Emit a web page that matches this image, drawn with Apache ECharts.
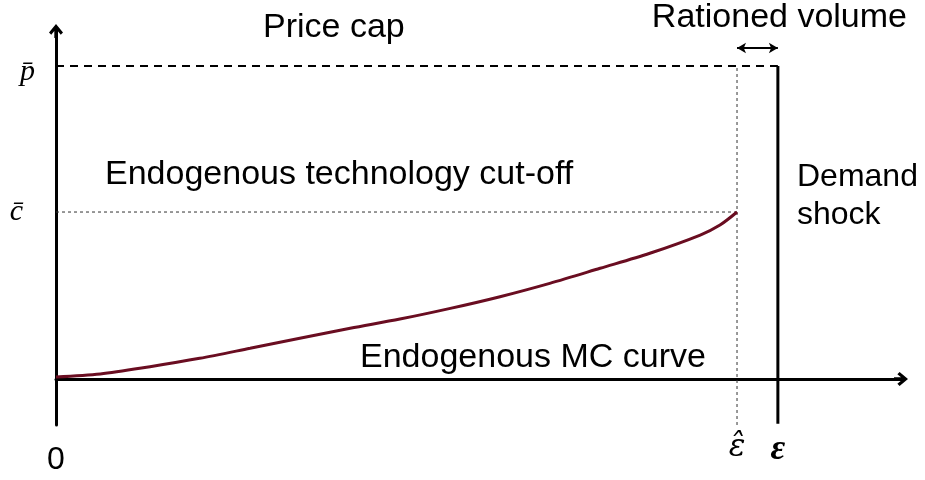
<!DOCTYPE html>
<html>
<head>
<meta charset="utf-8">
<script src="https://cdn.jsdelivr.net/npm/echarts@6/dist/echarts.min.js"></script>
<style>html,body{margin:0;padding:0;background:#fff}#chart{width:925px;height:480px}</style>
</head>
<body>
<div id="chart"></div>
<script>
// ---- data ----
var curveX = [0, 0.065, 0.138, 0.211, 0.285, 0.358, 0.432, 0.505, 0.579, 0.652, 0.725, 0.799, 0.872, 0.946, 0.975, 1.0];
var curveY = [0.012, 0.030, 0.074, 0.124, 0.184, 0.244, 0.304, 0.359, 0.423, 0.493, 0.573, 0.663, 0.753, 0.862, 0.922, 1.0];
var epsHat = 1.0;      // endogenous cut-off volume
var eps = 1.06;        // demand shock
var cBar = 1.0;        // technology cut-off cost
var pBar = 1.874;      // price cap
var rationedY = 1.982; // level of the rationed-volume arrow
var xTickValues = [0, epsHat, eps];
var xTickLabels = ['0', 'ε̂', 'ε'];
var yTickValues = [cBar, pBar];
var yTickLabels = ['c̄', 'p̄'];
var xMin = 0, xMax = 1.2408, yMin = -0.2754, yMax = 2.084;

var arrowPath = 'path://M5,0 L10,6 L8.4,7.6 L6.2,5 L6.2,10 L3.8,10 L3.8,5 L1.6,7.6 L0,6 Z';
var txt = {color: '#000', fontFamily: 'Liberation Sans, Arial, sans-serif', fontSize: 34, fontWeight: 'normal'};

var chart = echarts.init(document.getElementById('chart'), null, {renderer: 'canvas'});
chart.setOption({
  animation: false,
  backgroundColor: '#fff',
  grid: {left: 56, right: 24, top: 31, bottom: 55, containLabel: false, outerBoundsMode: 'none'},
  title: [
    {text: 'Price cap', left: 263, top: 11, padding: 0, textStyle: txt},
    {text: 'Rationed volume', right: 18, top: 1, padding: 0, textStyle: txt},
    {text: 'Endogenous technology cut-off', left: 105, top: 158, padding: 0, textStyle: txt},
    {text: 'Demand\nshock', left: 797, top: 158, padding: 0, textStyle: Object.assign({}, txt, {fontSize: 32, lineHeight: 38})},
    {text: 'Endogenous MC curve', left: 360, top: 341, padding: 0, textStyle: txt}
  ],
  xAxis: {
    type: 'value', min: xMin, max: xMax,
    axisLine: {show: true, onZero: true, symbol: ['none', arrowPath], symbolSize: [17, 14],
      lineStyle: {color: '#000', width: 3}},
    axisTick: {show: false},
    splitLine: {show: false},
    axisLabel: {
      show: true, customValues: xTickValues, margin: 7,
      formatter: function (v) {
        var i = xTickValues.indexOf(v);
        var key = i === 0 ? 'z' : (i === 1 ? 'h' : 'e');
        return '{' + key + '|' + xTickLabels[i] + '}';
      },
      rich: {
        z: {fontFamily: 'Liberation Sans, Arial, sans-serif', fontSize: 32, color: '#000', padding: [12, 0, 0, 0]},
        h: {fontFamily: 'DejaVu Serif, serif', fontStyle: 'italic', fontSize: 31, color: '#000'},
        e: {fontFamily: 'Liberation Serif, serif', fontStyle: 'italic', fontWeight: 'bold', fontSize: 36, color: '#000'}
      }
    }
  },
  yAxis: {
    type: 'value', min: yMin, max: yMax,
    axisLine: {show: true, onZero: false, symbol: ['none', arrowPath], symbolSize: [17, 14],
      lineStyle: {color: '#000', width: 3}},
    axisTick: {show: false},
    splitLine: {show: false},
    axisLabel: {
      show: true, customValues: yTickValues, margin: 21,
      formatter: function (v) {
        var i = yTickValues.indexOf(v);
        return '{' + (i === 0 ? 'c' : 'p') + '|' + yTickLabels[i] + '}';
      },
      rich: {
        c: {fontFamily: 'Liberation Serif, serif', fontStyle: 'italic', fontSize: 30, color: '#000', padding: [0, 12, 0, 0]},
        p: {fontFamily: 'Liberation Serif, serif', fontStyle: 'italic', fontSize: 30, color: '#000', padding: [12, 0, 0, 0]}
      }
    }
  },
  series: [
    {type: 'line', name: 'pbar', data: [[0, pBar], [eps, pBar]], symbol: 'none',
      lineStyle: {color: '#000', width: 2, type: [8, 6]}, silent: true,
      markLine: {silent: true, symbol: ['arrow', 'arrow'], symbolSize: [8, 9], label: {show: false},
        lineStyle: {color: '#000', width: 2, type: 'solid'},
        data: [[{coord: [epsHat, rationedY]}, {coord: [eps, rationedY]}]]}},
    {type: 'line', name: 'cbar', data: [[0, cBar], [epsHat, cBar]], symbol: 'none',
      lineStyle: {color: '#333', width: 1, type: [3, 3]}, silent: true},
    {type: 'line', name: 'epshat', data: [[epsHat, yMin], [epsHat, pBar]], symbol: 'none',
      lineStyle: {color: '#333', width: 1, type: [3, 3]}, silent: true},
    {type: 'line', name: 'eps', data: [[eps, yMin + 0.008], [eps, pBar]], symbol: 'none',
      lineStyle: {color: '#000', width: 3}, silent: true},
    {type: 'line', name: 'MC', data: curveX.map(function (x, i) { return [x, curveY[i]]; }),
      symbol: 'none', smooth: 0.3, lineStyle: {color: '#6a0d21', width: 3}, silent: true}
  ]
});
</script>
</body>
</html>
